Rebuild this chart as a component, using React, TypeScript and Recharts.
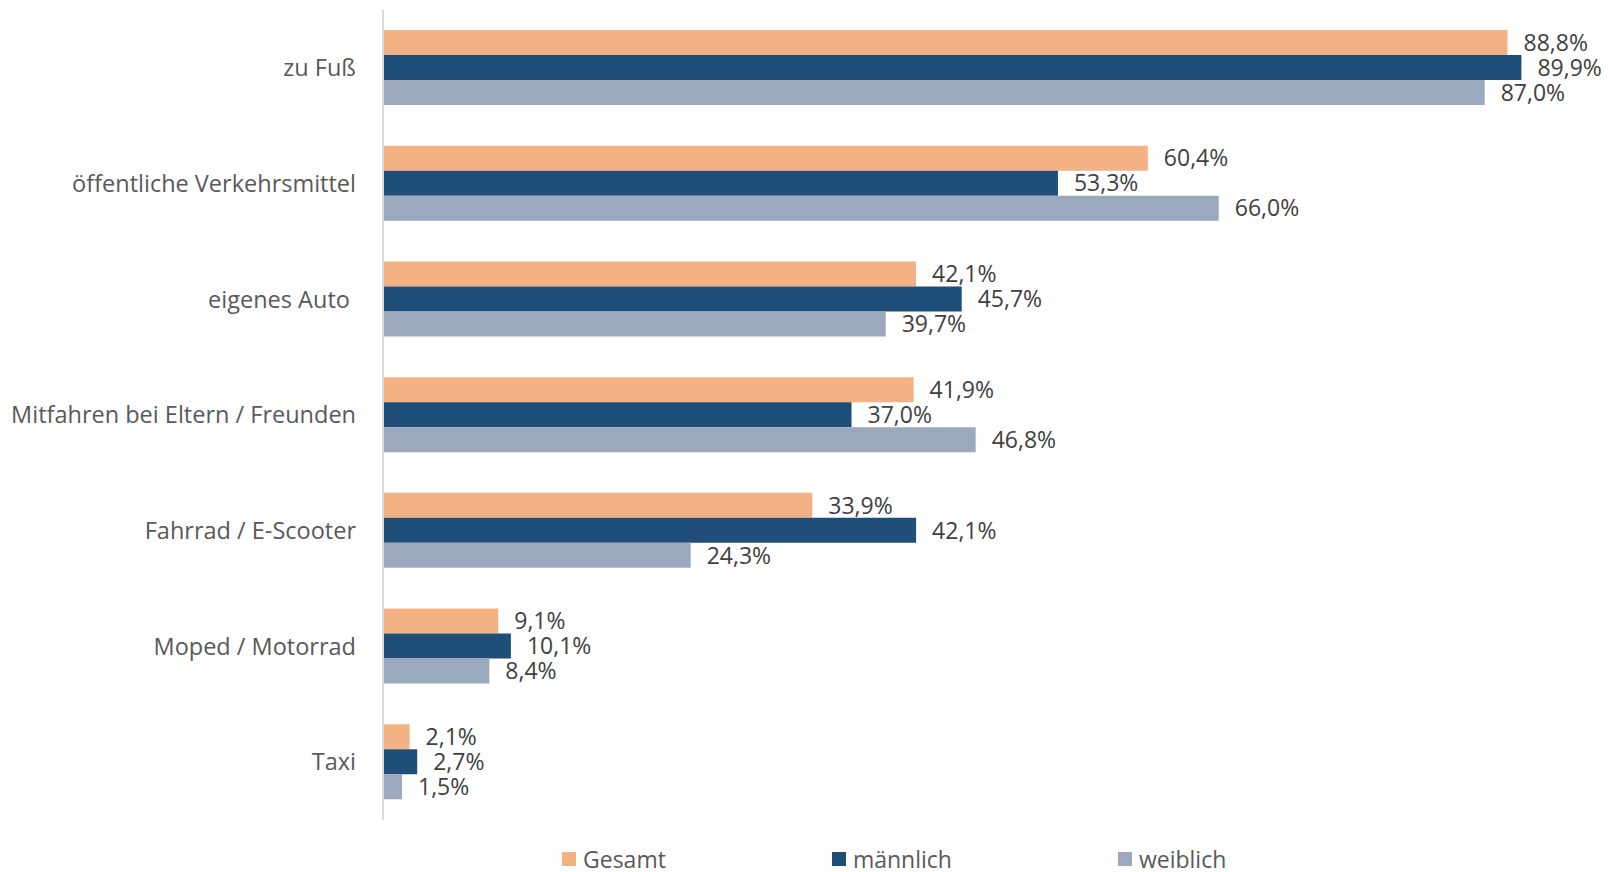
import React from "react";
import { BarChart, Bar, XAxis, YAxis, Legend, LabelList } from "recharts";

const categories = [
  "zu Fuß",
  "öffentliche Verkehrsmittel",
  "eigenes Auto\u00A0",
  "Mitfahren bei Eltern / Freunden",
  "Fahrrad / E-Scooter",
  "Moped / Motorrad",
  "Taxi",
];
const gesamt = [88.8, 60.4, 42.1, 41.9, 33.9, 9.1, 2.1];
const maennlich = [89.9, 53.3, 45.7, 37.0, 42.1, 10.1, 2.7];
const weiblich = [87.0, 66.0, 39.7, 46.8, 24.3, 8.4, 1.5];

const seriesNames = ["Gesamt", "männlich", "weiblich"];
const colors = ["#F4B183", "#1F4E79", "#9BA9BF"];

const data = categories.map((c, i) => ({
  name: c,
  gesamt: gesamt[i],
  maennlich: maennlich[i],
  weiblich: weiblich[i],
}));

const FONT = "'Open Sans', 'DejaVu Sans', sans-serif";

const fmt = (v: any) => `${Number(v).toFixed(1).replace(".", ",")}%`;

const LegendContent = () => (
  <div
    style={{
      display: "flex",
      alignItems: "center",
      paddingLeft: 562,
      fontFamily: FONT,
      fontSize: 23,
      color: "#595959",
    }}
  >
    {seriesNames.map((n, i) => (
      <div key={n} style={{ display: "flex", alignItems: "center", marginRight: 166 }}>
        <span style={{ display: "inline-block", width: 14, height: 14, background: colors[i], marginRight: 7 }} />
        <span>{n}</span>
      </div>
    ))}
  </div>
);

export default function App() {
  const keys = ["gesamt", "maennlich", "weiblich"];
  return (
    <div style={{ position: "absolute", left: 0, top: 0, width: 1608, height: 872, background: "#fff" }}>
      <BarChart
        width={1608}
        height={872}
        data={data}
        layout="vertical"
        margin={{ top: 10, right: 22, bottom: 52, left: 0 }}
        barGap={0}
        barSize={25}
      >
        <XAxis type="number" domain={[0, 95]} hide />
        <YAxis
          type="category"
          dataKey="name"
          width={383}
          tickLine={false}
          tickSize={0}
          tickMargin={27}
          axisLine={{ stroke: "#D9D9D9", strokeWidth: 2 }}
          tick={{ fill: "#595959", fontSize: 23.5, fontFamily: FONT }}
          interval={0}
        />
        <Legend
          layout="horizontal"
          verticalAlign="middle"
          align="center"
          wrapperStyle={{ top: 843, left: 0, width: 1608 }}
          content={<LegendContent />}
        />
        {keys.map((k, i) => (
          <Bar key={k} dataKey={k} name={seriesNames[i]} fill={colors[i]} isAnimationActive={false}>
            <LabelList
              dataKey={k}
              position="right"
              offset={16}
              formatter={fmt}
              style={{ fill: "#404040", fontSize: 23, fontFamily: FONT }}
            />
          </Bar>
        ))}
      </BarChart>
    </div>
  );
}
